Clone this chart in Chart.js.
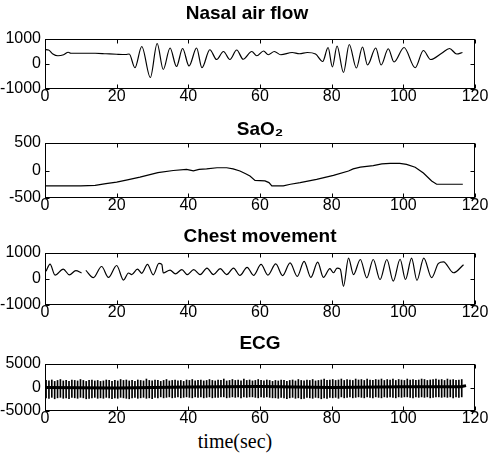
<!DOCTYPE html>
<html>
<head>
<meta charset="utf-8">
<script src="https://cdn.jsdelivr.net/npm/chart.js@4.4.1/dist/chart.umd.min.js"></script>
<style>
  html, body { margin: 0; background: #fff; overflow: hidden; }
  #wrap { position: relative; width: 488px; height: 470px; overflow: hidden; }
  #wrap canvas { position: absolute; left: 0; }
  #xlabel {
    position: absolute; top: 430px; left: 185px; width: 100px;
    text-align: center; font: 20px "Liberation Serif", "Times New Roman", serif; color: #000;
  }
</style>
</head>
<body>
<div id="wrap">
  <canvas id="nasal" width="507" height="108" style="top:0px"></canvas>
  <canvas id="sao2" width="533" height="107" style="top:110px"></canvas>
  <canvas id="chest" width="533" height="102" style="top:222px"></canvas>
  <canvas id="ecg" width="533" height="98" style="top:332px"></canvas>
  <div id="xlabel">time(sec)</div>
</div>
<script>
// x axis ticks shared by all four panels (seconds)
const timeTicks = [0, 20, 40, 60, 80, 100, 120];

// Nasal air flow: turning points
const nasalT = [0, 1, 2.2, 3.6, 5.2, 6.5, 7.2, 10, 14, 17, 20, 22.5, 23.5, 25.1, 27.0, 29.4, 31.3, 33.0, 34.9, 36.7,
  38.4, 40.2, 42.3, 43.8, 46.0, 47.9, 49.8, 51.6, 53.5, 55.3, 57.7, 59.1, 61.0, 62.3, 64.0, 65.8, 69.0, 71.0, 73.2, 75.5,
  77.5, 79.0, 80.2, 81.5, 83.3, 84.9, 86.9, 88.6, 90.0, 92.3, 93.8, 95.8, 97.4, 100.2, 103.3, 105.6, 107.6, 110.7, 112.9, 114.9, 116.5];
const nasalV = [580, 560, 400, 330, 370, 470, 430, 430, 430, 410, 390, 380, 400, -150, 700, -540, 820, -220, 640, -100,
  620, -80, 640, -150, 570, 180, 500, 180, 560, 190, 500, 330, 520, 370, 500, 370, 460, 410, 460, 400,
  100, 660, -120, 720, -340, 780, -160, 680, -40, 640, -40, 610, 80, 660, -150, 540, 180, 430, 620, 400, 460];

// SaO2
const saoT = [0, 10, 14, 17, 20, 23, 26.5, 29, 31.5, 35.8, 39.5, 41.4, 43, 45.1, 48, 50.7, 52.5, 54.4, 56, 57.2,
  58.6, 61.4, 62.5, 63.3, 66.5, 68.5, 71.2, 75.8, 80.5, 84.7, 86, 88, 91.6, 94, 96.3, 99, 100.9, 103.3, 105.6, 107.9,
  109.3, 116.6];
const saoV = [-280, -280, -270, -240, -210, -170, -120, -80, -40, 0, 20, -5, 20, 30, 50, 50, 30, -10, -60, -100,
  -180, -190, -220, -280, -280, -250, -220, -160, -90, -10, 30, 60, 90, 120, 130, 130, 110, 60, -45, -190,
  -250, -250];

// Chest movement (null = break in the recording)
const chestT = [0.3, 1.4, 2.8, 5.1, 6.8, 8.6, 10.2, 10.8, 11.4, 13.5, 15.8, 17.7, 20.0, 21.9, 23.3, 24.2, 25.8, 27.0, 28.6, 30.2,
  31.8, 32.6, 33.0, 34.9, 36.4, 38.2, 39.7, 41.5, 43.3, 45.2, 47.0, 48.9, 50.7, 52.6, 54.4, 56.4, 58.2, 60.3, 62.2, 64.4,
  66.3, 68.4, 70.4, 72.3, 74.2, 76.1, 77.7, 79.5, 80.5, 81.5, 82.4, 83.3, 84.7, 86.1, 88.0, 89.8, 91.6, 93.5, 95.4, 97.2,
  99.1, 100.6, 102.3, 103.8, 105.7, 107.9, 109.8, 111.2, 114.0, 116.8];
const chestV = [300, 570, 150, 380, 160, 320, 230, null, 330, 50, 480, 60, 520, -40, 230, 170, 380, 220, 560, 160,
  600, 560, 230, 340, 200, 360, 170, 360, 170, 420, 170, 400, 170, 420, 140, 450, 140, 560, 150, 580,
  130, 620, 100, 680, 60, 650, 60, 400, 240, 420, 380, -280, 800, 170, 750, 40, 750, -20, 750, -80,
  760, -20, 800, -50, 800, 50, 600, 660, 240, 550];

// ECG: one R peak / S trough per beat, mean beat interval read from the strip
const ecgStart = 0.3;
const ecgRR = 0.8;
const ecgHigh = [
  1500, 1400, 1600, 1300, 1500, 1700, 1400, 1500, 1300, 1600, 1500, 1400, 1700, 1500, 1300, 1500, 1600, 1400, 1500, 1300,
  1400, 1600, 1500, 1300, 1500, 1400, 1700, 1500, 1600, 1400, 1500, 1300, 1600, 1500, 1400, 1800, 1500, 1400, 1600, 1500,
  1300, 1500, 1700, 1400, 1500, 1600, 1400, 1500, 1300, 1600, 1500, 1700, 1400, 1500, 1600, 1400, 1500, 1700, 1500, 1400,
  1600, 1500, 1800, 1400, 1500, 1700, 1500, 1600, 1400, 1800, 1500, 1600, 1400, 1500, 1700, 1500, 1400, 1600, 1500, 1300,
  1500, 1400, 1600, 1500, 1300, 1500, 1600, 1400, 1700, 1500, 1400, 1600, 1500, 1700, 1400, 1500, 1600, 1800, 1500, 1600,
  1700, 1500, 1600, 1800, 1500, 1700, 1600, 1500, 1800, 1600, 1700, 1500, 1800, 1600, 1500, 1700, 1600, 1800, 1500, 1700,
  1600, 1800, 1500, 1700, 1600, 1500, 1800, 1600, 1700, 1500, 1600, 1800, 1700, 1500, 1600, 1700, 1800, 1600, 1700, 1500,
  1800, 1600, 1700, 1500, 1600, 1700];
const ecgLow = [
  -2200, -2300, -2100, -2400, -2200, -2100, -2300, -2200, -2400, -2100, -2200, -2300, -2100, -2200, -2400, -2300, -2200, -2100, -2300, -2200,
  -2300, -2100, -2200, -2400, -2200, -2300, -2100, -2200, -2300, -2400, -2200, -2100, -2300, -2200, -2100, -2300, -2200, -2400, -2100, -2200,
  -2000, -2200, -2100, -2000, -2200, -2100, -2000, -2200, -2100, -2000, -2100, -2200, -2000, -2100, -2000, -2200, -2100, -2000, -2200, -2100,
  -2100, -2000, -2000, -2200, -2100, -2000, -2100, -2000, -2200, -2000, -2100, -2000, -2000, -2100, -2200, -2000, -2100, -2000, -2100, -2200,
  -2200, -2300, -2100, -2200, -2400, -2200, -2100, -2300, -2200, -2400, -2300, -2100, -2200, -2300, -2100, -2200, -2400, -2200, -2300, -2100,
  -2200, -2100, -2300, -2000, -2200, -2100, -2000, -2200, -2100, -2000, -2100, -2200, -2000, -2100, -2200, -2000, -2100, -2200, -2000, -2100,
  -2000, -2100, -2200, -2000, -2100, -2000, -2000, -2100, -2200, -2000, -2100, -2000, -2100, -2000, -2200, -2100, -2000, -2000, -2100, -2000,
  -2100, -2000, -2200, -2000, -2100, -2000];
// slow baseline wander of the ECG
const ecgBaseT = [0, 20, 40, 60, 80, 100, 116, 117.5];
const ecgBaseV = [0, -100, 100, 200, 0, 150, 150, 400];

const pts = (xs, ys) => xs.map((x, i) => ({ x: x, y: ys[i] }));

// MATLAB style frame with inward ticks on all four sides
const framePlugin = {
  id: 'frame',
  afterDatasetsDraw(chart) {
    const { ctx, chartArea: a, scales } = chart;
    const l = Math.round(a.left) + 0.5, r = Math.round(a.right) - 0.5;
    const t = Math.round(a.top) + 0.5, b = Math.round(a.bottom) - 0.5;
    ctx.save();
    ctx.strokeStyle = '#000';
    ctx.lineWidth = 1;
    ctx.strokeRect(l, t, r - l, b - t);
    ctx.beginPath();
    scales.x.ticks.forEach(tk => {
      const px = Math.round(scales.x.getPixelForValue(tk.value)) + 0.5;
      ctx.moveTo(px, b); ctx.lineTo(px, b - 4);
      ctx.moveTo(px, t); ctx.lineTo(px, t + 4);
    });
    scales.y.ticks.forEach(tk => {
      const py = Math.round(scales.y.getPixelForValue(tk.value)) + 0.5;
      ctx.moveTo(l, py); ctx.lineTo(l + 4, py);
      ctx.moveTo(r, py); ctx.lineTo(r - 4, py);
    });
    ctx.stroke();
    ctx.restore();
  }
};

const tickFont = { family: '"Liberation Sans", Arial, sans-serif', size: 16, lineHeight: 1 };

// rightSpace: empty axis box on the right, so the title centre lines up with the plot
function panelOptions(title, pad, rightSpace, yMin, yMax, yStep) {
  return {
    responsive: false,
    animation: false,
    layout: { padding: { left: 0, right: 13, top: 0, bottom: 3 } },
    plugins: {
      legend: { display: false },
      tooltip: { enabled: false },
      title: {
        display: true,
        text: title,
        color: '#000',
        font: { family: '"Liberation Sans", Arial, sans-serif', size: 19, weight: 'bold' },
        padding: pad
      }
    },
    scales: {
      x: {
        type: 'linear', min: 0, max: 120, offset: false,
        afterBuildTicks: s => { s.ticks = timeTicks.map(v => ({ value: v })); },
        grid: { display: false, drawTicks: false },
        border: { display: false },
        ticks: { color: '#000', font: tickFont, padding: 0, maxRotation: 0, autoSkip: false, callback: v => String(v) }
      },
      y: {
        min: yMin, max: yMax,
        afterBuildTicks: s => { s.ticks = [yMin, yMin + yStep, yMax].map(v => ({ value: v })); },
        afterFit: s => { s.width = 45; },
        grid: { display: false, drawTicks: false },
        border: { display: false },
        ticks: { color: '#000', font: tickFont, padding: 4, callback: v => String(v) }
      },
      ySpace: {
        position: 'right', min: yMin, max: yMax,
        afterFit: s => { s.width = rightSpace; },
        grid: { display: false, drawTicks: false },
        border: { display: false },
        ticks: { display: false }
      }
    }
  };
}

function lineSet(data, smooth) {
  return {
    type: 'line',
    data: data,
    borderColor: '#000',
    borderWidth: 1.2,
    pointRadius: 0,
    fill: false,
    spanGaps: false,
    cubicInterpolationMode: smooth ? 'monotone' : 'default',
    tension: 0
  };
}

new Chart(document.getElementById('nasal'), {
  type: 'line',
  data: { datasets: [lineSet(pts(nasalT, nasalV), true)] },
  options: panelOptions('Nasal air flow', { top: 2.6, bottom: 13.6 }, 19, -1000, 1000, 1000),
  plugins: [framePlugin]
});

new Chart(document.getElementById('sao2'), {
  type: 'line',
  data: { datasets: [lineSet(pts(saoT, saoV), false)] },
  options: panelOptions('SaO\u2082', { top: 8.6, bottom: 1.6 }, 45, -500, 500, 500),
  plugins: [framePlugin]
});

new Chart(document.getElementById('chest'), {
  type: 'line',
  data: { datasets: [lineSet(pts(chestT, chestV), true)] },
  options: panelOptions('Chest movement', { top: 3.1, bottom: 5.1 }, 45, -1000, 1000, 1000),
  plugins: [framePlugin]
});

new Chart(document.getElementById('ecg'), {
  type: 'bar',
  data: {
    datasets: [
      {
        type: 'bar',
        data: ecgHigh.map((h, i) => ({ x: ecgStart + i * ecgRR, y: [ecgLow[i], h] })),
        backgroundColor: '#000',
        borderWidth: 0,
        barThickness: 1,
        grouped: false
      },
      Object.assign(lineSet(pts(ecgBaseT, ecgBaseV), false), { borderWidth: 3 })
    ]
  },
  options: panelOptions('ECG', { top: 0, bottom: 9.2 }, 45, -5000, 5000, 5000),
  plugins: [framePlugin]
});
</script>
</body>
</html>
